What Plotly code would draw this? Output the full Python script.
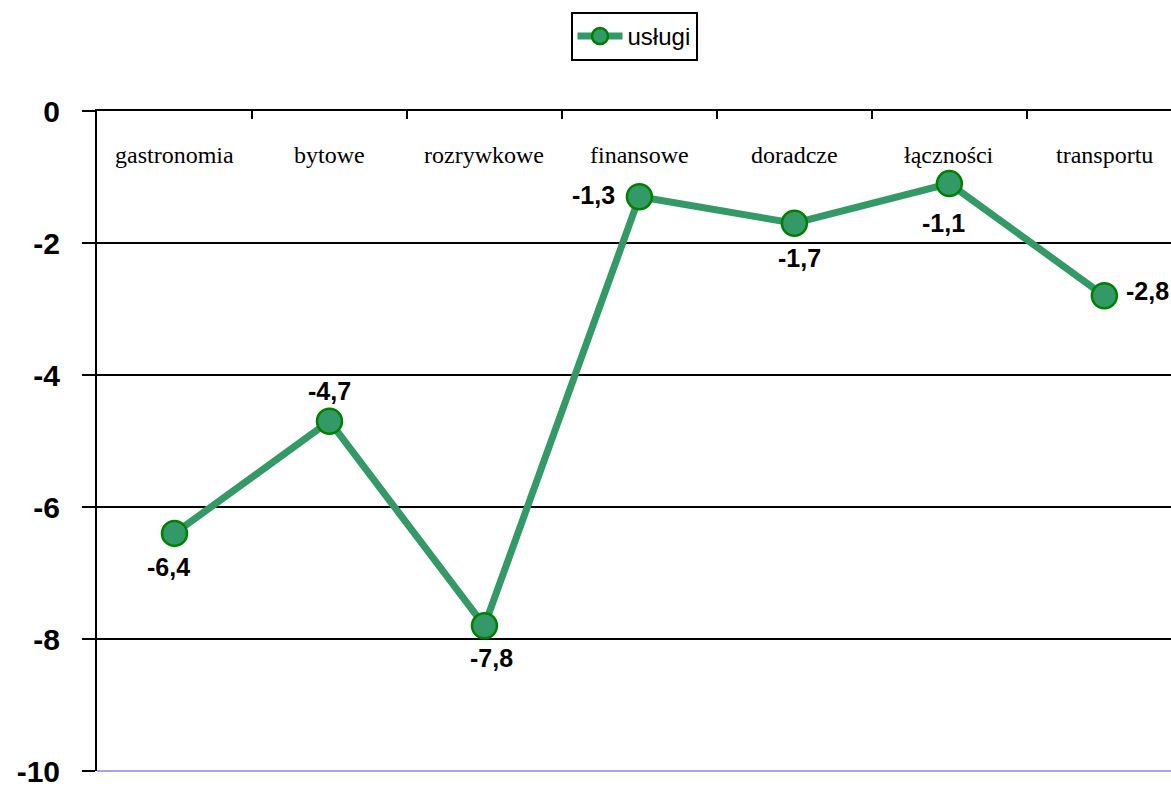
import plotly.graph_objects as go

categories = ["gastronomia", "bytowe", "rozrywkowe", "finansowe", "doradcze", "łączności", "transportu"]
values = [-6.4, -4.7, -7.8, -1.3, -1.7, -1.1, -2.8]
y_ticks = [0, -2, -4, -6, -8, -10]

# placement of each value label relative to its marker: (anchor, dx px, dy px up)
label_offsets = [
    ("center", -6, -34),
    ("center", 0, 30),
    ("center", 7, -32),
    ("right", -22, 2),
    ("center", 5, -35),
    ("center", -6, -39),
    ("left", 20, 5),
]

labels = [f"{v:.1f}".replace(".", ",") for v in values]

fig = go.Figure()
fig.add_trace(go.Scatter(
    x=categories,
    y=values,
    name="usługi",
    mode="lines+markers",
    line=dict(color="#339966", width=7),
    marker=dict(size=25, color="#339966", line=dict(color="#008000", width=2.5)),
    cliponaxis=False,
))

# value labels next to each marker
for cat, val, txt, (anchor, dx, dy) in zip(categories, values, labels, label_offsets):
    fig.add_annotation(
        x=cat, xref="x", y=val, yref="y",
        xanchor=anchor, yanchor="middle",
        xshift=dx, yshift=dy, showarrow=False,
        text=f"<b>{txt}</b>",
        font=dict(family="Liberation Sans, Arial", size=25, color="black"),
    )

# category names sit just under the top axis line, inside the plot area
for cat in categories:
    fig.add_annotation(
        x=cat, xref="x", y=1, yref="paper",
        yshift=-44, yanchor="middle", showarrow=False,
        text=cat,
        font=dict(family="Liberation Serif, Times New Roman", size=24, color="black"),
    )

fig.update_layout(
    width=1171,
    height=787,
    margin=dict(l=97, r=0, t=111, b=16),
    paper_bgcolor="white",
    plot_bgcolor="white",
    showlegend=True,
    legend=dict(
        x=0.5, xanchor="center",
        y=1.15, yanchor="top",
        bordercolor="black", borderwidth=2,
        itemwidth=45,
        font=dict(family="Liberation Sans, Arial", size=24, color="black"),
    ),
    xaxis=dict(
        type="category",
        side="top",
        range=[-0.5, 6.43],
        automargin=False,
        showline=True, linecolor="black", linewidth=2,
        ticks="inside", ticklen=8, tickwidth=2, tickcolor="black",
        tickson="boundaries",
        showticklabels=False,
        showgrid=False,
        zeroline=False,
    ),
    yaxis=dict(
        range=[-10, 0],
        automargin=False,
        tickvals=y_ticks,
        ticktext=[str(v) for v in y_ticks],
        showline=True, linecolor="black", linewidth=2,
        ticks="outside", ticklen=13, tickwidth=2, tickcolor="black",
        ticklabelstandoff=16,
        ticklabeloverflow="allow",
        tickfont=dict(family="Liberation Sans, Arial", size=30, color="black", weight="bold"),
        showgrid=True, gridcolor="black", gridwidth=2,
        zeroline=False,
    ),
    shapes=[dict(
        type="line", xref="paper", yref="paper",
        x0=0, x1=1, y0=0, y1=0,
        line=dict(color="#a6a6e6", width=2),
        layer="above",
    )],
)

fig.write_html("out.html")
